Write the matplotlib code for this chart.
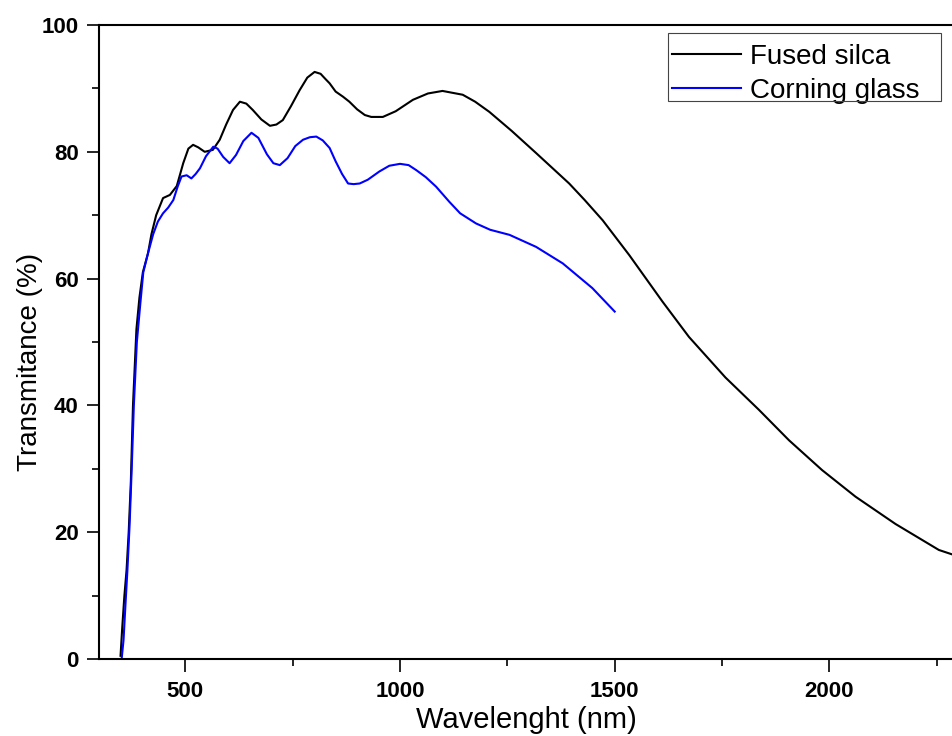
import matplotlib
matplotlib.use('Agg')
import matplotlib.pyplot as plt
from matplotlib.patches import Rectangle
from matplotlib.ticker import MultipleLocator

# wavelength in nm, transmittance in %
WL_FS=[349,353,358,363,368,373,378,386,393,401,413,421,432,448,464,480,495,507,518,530,545,564,580,595,611,627,642,657,677,697,712,727,746,766,784,801,815,826,836,850,867,882,900,918,933,960,990,1030,1065,1099,1146,1175,1208,1260,1317,1394,1430,1472,1534,1611,1673,1758,1836,1906,1983,2061,2154,2255,2286]
T_FS=[0.5,5,10,14,20,28,40,52,57,61,64,67,70,72.7,73.2,74.6,78.2,80.5,81.1,80.7,80.0,80.3,81.9,84.3,86.6,87.9,87.6,86.6,85.1,84.1,84.3,85.0,87.2,89.7,91.7,92.6,92.3,91.5,90.8,89.5,88.7,87.9,86.7,85.8,85.5,85.5,86.4,88.2,89.2,89.6,89.0,87.9,86.3,83.3,79.8,75.0,72.4,69.2,63.7,56.4,50.8,44.4,39.3,34.5,29.8,25.6,21.3,17.2,16.5]
WL_CG=[352,356,360,365,370,375,380,387,395,402,413,425,436,448,460,472,482,491,503,514,524,534,548,565,575,588,603,618,635,654,670,690,705,720,738,756,774,790,805,820,836,850,865,879,892,906,925,952,975,1000,1020,1038,1060,1084,1115,1140,1177,1210,1255,1317,1379,1448,1500]
T_CG=[0.3,3,8,14,21,30,40,50,56,61,64,67,69,70.3,71.2,72.4,74.5,76.1,76.3,75.8,76.5,77.4,79.3,80.8,80.5,79.2,78.2,79.5,81.7,83.0,82.2,79.6,78.2,77.9,79.0,80.9,81.9,82.3,82.4,81.8,80.6,78.5,76.5,75.0,74.9,75.0,75.6,76.9,77.8,78.1,77.9,77.1,76.0,74.5,72.1,70.3,68.7,67.7,66.9,65.0,62.4,58.5,54.8]
LABELS=['Fused silca','Corning glass']

plt.rcParams['font.family']=['Liberation Sans','DejaVu Sans']
W,H=953,736
fig=plt.figure(figsize=(W/100,H/100),dpi=100)
ax=fig.add_axes([99.5/W,1-659/H,(W-99.5)/W,(659-25)/H])
ax.plot(WL_FS,T_FS,color='black',lw=1.5,label=LABELS[0])
ax.plot(WL_CG,T_CG,color='#0000FF',lw=1.5,label=LABELS[1])
ax.set_xlim(300,2288); ax.set_ylim(0,100)
ax.xaxis.set_major_locator(MultipleLocator(500)); ax.xaxis.set_minor_locator(MultipleLocator(250))
ax.yaxis.set_major_locator(MultipleLocator(20)); ax.yaxis.set_minor_locator(MultipleLocator(10))
ax.tick_params(which='both',direction='out',width=1.2,top=False,right=False)
ax.tick_params(which='major',length=9,labelsize=16)
ax.tick_params(which='minor',length=5)
ax.tick_params(axis='x',which='major',pad=7); ax.tick_params(axis='y',which='major',pad=6)
for t in ax.get_xticklabels()+ax.get_yticklabels(): t.set_fontweight('bold')
for s in ['left','bottom','top']: ax.spines[s].set_linewidth(1.5)
ax.spines['right'].set_visible(False)
fig.text(526/W,1-728/H,'Wavelenght (nm)',ha='center',va='baseline',fontsize=21)
fig.text(30/W,1-362/H,'Transmitance (%)',ha='center',va='center',rotation=90,fontsize=20)
leg=ax.legend(loc='upper left',bbox_to_anchor=(667.5/W,1-40/H),bbox_transform=fig.transFigure,borderaxespad=0,
              fontsize=20,handlelength=2.5,handletextpad=0.33,borderpad=0.15,labelspacing=0.28,frameon=False)
fig.patches.append(Rectangle((668/W,1-101/H),273/W,68/H,transform=fig.transFigure,fill=False,edgecolor='#444444',lw=0.8))
fig.savefig('out.png',dpi=100)
